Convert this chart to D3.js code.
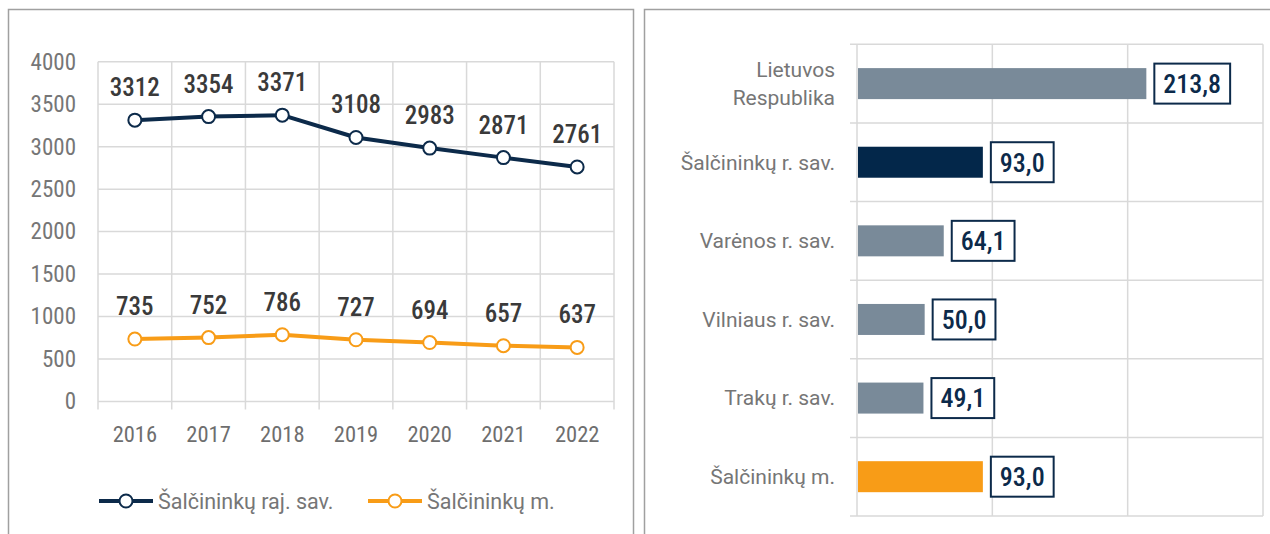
<!DOCTYPE html>
<html>
<head>
<meta charset="utf-8">
<script src="https://cdn.jsdelivr.net/npm/d3@7/dist/d3.min.js"></script>
<style>
  html, body { margin: 0; padding: 0; background: #fff; }
  svg { display: block; }
  text { font-family: Roboto, "Open Sans", sans-serif; }
  .num { font-stretch: 75%; }
  .lab { font-stretch: 100%; }
</style>
</head>
<body>
<svg id="chart" width="1270" height="534"></svg>
<script>
// ---- Data ----
const years = ["2016", "2017", "2018", "2019", "2020", "2021", "2022"];
const seriesNames = ["Šalčininkų raj. sav.", "Šalčininkų m."];
const districtValues = [3312, 3354, 3371, 3108, 2983, 2871, 2761];
const townValues = [735, 752, 786, 727, 694, 657, 637];
const yTicks = [0, 500, 1000, 1500, 2000, 2500, 3000, 3500, 4000];

const barCategories = ["Lietuvos\nRespublika", "Šalčininkų r. sav.", "Varėnos r. sav.", "Vilniaus r. sav.", "Trakų r. sav.", "Šalčininkų m."];
const barValues = [213.8, 93.0, 64.1, 50.0, 49.1, 93.0];
const xTicks = [0, 100, 200, 300];

// ---- Styles ----
const NAVY = "#0c2a4a";
const ORANGE = "#f89c17";
const GREY_BAR = "#798a99";
const GRID = "#d9d9d9";
const AXIS_TEXT = "#767676";
const FRAME = "#a0a0a0";
const barColors = [GREY_BAR, "#03274a", GREY_BAR, GREY_BAR, GREY_BAR, ORANGE];

const svg = d3.select("#chart");

// Frames
svg.append("rect").attr("x", 8.5).attr("y", 9.5).attr("width", 625).attr("height", 540)
  .attr("fill", "none").attr("stroke", FRAME).attr("stroke-width", 1.5);
svg.append("rect").attr("x", 644.5).attr("y", 9.5).attr("width", 640).attr("height", 540)
  .attr("fill", "none").attr("stroke", FRAME).attr("stroke-width", 1.5);

// ================= LINE CHART =================
const L = { left: 98, right: 614, top: 61.7, bottom: 401.5 };
const x = d3.scaleBand().domain(years).range([L.left, L.right]);
const y = d3.scaleLinear().domain([0, 4000]).range([L.bottom, L.top]);

const lg = svg.append("g");
lg.append("g").selectAll("line").data(yTicks).join("line")
  .attr("x1", L.left).attr("x2", L.right)
  .attr("y1", d => y(d)).attr("y2", d => y(d))
  .attr("stroke", GRID).attr("stroke-width", 1.5);
const bounds = years.map(d => x(d)).concat([x(years[years.length - 1]) + x.bandwidth()]);
lg.append("g").selectAll("line").data(bounds).join("line")
  .attr("x1", d => d).attr("x2", d => d)
  .attr("y1", L.top).attr("y2", L.bottom + 8)
  .attr("stroke", GRID).attr("stroke-width", 1.5);

const yAxis = d3.axisLeft(y).tickValues(yTicks).tickFormat(d3.format("d")).tickSize(0).tickPadding(22);
const yg = lg.append("g").attr("transform", `translate(${L.left},0)`).call(yAxis);
yg.select(".domain").remove();
yg.selectAll("text").attr("class", "num").attr("font-size", 23).attr("fill", AXIS_TEXT)
  .attr("font-family", null);

const xAxis = d3.axisBottom(x).tickSize(0).tickPadding(25);
const xg = lg.append("g").attr("transform", `translate(0,${L.bottom})`).call(xAxis);
xg.select(".domain").remove();
xg.selectAll("text").attr("class", "num").attr("font-size", 22.5).attr("font-weight", 400).attr("fill", "#6e6e6e")
  .attr("font-family", null);

const line = d3.line().x((d, i) => x(years[i]) + x.bandwidth() / 2).y(d => y(d));
const seriesList = [
  { values: districtValues, color: NAVY },
  { values: townValues, color: ORANGE }
];
seriesList.forEach(s => {
  lg.append("path").datum(s.values).attr("d", line)
    .attr("fill", "none").attr("stroke", s.color).attr("stroke-width", 4)
    .attr("stroke-linejoin", "round");
  lg.append("g").selectAll("circle").data(s.values).join("circle")
    .attr("cx", (d, i) => x(years[i]) + x.bandwidth() / 2)
    .attr("cy", d => y(d)).attr("r", 6.5)
    .attr("fill", "#fff").attr("stroke", s.color).attr("stroke-width", 2);
  lg.append("g").selectAll("text").data(s.values).join("text")
    .attr("class", "num")
    .attr("x", (d, i) => x(years[i]) + x.bandwidth() / 2)
    .attr("y", d => y(d) - 24)
    .attr("text-anchor", "middle").attr("font-size", 25).attr("font-weight", 500).attr("fill", "#3a3a3a")
    .text(d => d);
});

// legend
const legendItems = [
  { name: seriesNames[0], color: NAVY, x1: 99, x2: 153, tx: 158 },
  { name: seriesNames[1], color: ORANGE, x1: 368, x2: 422, tx: 427 }
];
const legY = 501;
legendItems.forEach(it => {
  lg.append("line").attr("x1", it.x1).attr("x2", it.x2).attr("y1", legY).attr("y2", legY)
    .attr("stroke", it.color).attr("stroke-width", 4);
  lg.append("circle").attr("cx", (it.x1 + it.x2) / 2).attr("cy", legY).attr("r", 6.5)
    .attr("fill", "#fff").attr("stroke", it.color).attr("stroke-width", 2);
  lg.append("text").attr("class", "lab").attr("x", it.tx).attr("y", legY).attr("dy", "0.35em")
    .attr("font-size", 21.5).attr("fill", AXIS_TEXT).text(it.name);
});

// ================= BAR CHART =================
const B = { left: 857, right: 1263, top: 44.3, bottom: 516 };
const bx = d3.scaleLinear().domain([0, 300]).range([B.left, B.right]);
const by = d3.scaleBand().domain(barCategories).range([B.top, B.bottom]);

const bg = svg.append("g");
const bBounds = barCategories.map(d => by(d)).concat([B.bottom]);
bg.append("g").selectAll("line").data(bBounds).join("line")
  .attr("x1", B.left - 7).attr("x2", B.right)
  .attr("y1", d => d).attr("y2", d => d)
  .attr("stroke", GRID).attr("stroke-width", 1.5);
bg.append("g").selectAll("line").data(xTicks).join("line")
  .attr("x1", d => bx(d)).attr("x2", d => bx(d))
  .attr("y1", B.top).attr("y2", B.bottom)
  .attr("stroke", GRID).attr("stroke-width", 1.5);

const barH = 31;
bg.append("g").selectAll("rect").data(barValues).join("rect")
  .attr("x", bx(0) + 1)
  .attr("y", (d, i) => by(barCategories[i]) + by.bandwidth() / 2 - barH / 2)
  .attr("width", d => bx(d) - bx(0) - 1)
  .attr("height", barH)
  .attr("fill", (d, i) => barColors[i]);

const catG = bg.append("g");
barCategories.forEach((c, i) => {
  const lines = c.split("\n");
  const cy = by(c) + by.bandwidth() / 2;
  const lh = 28.5;
  const t = catG.append("text").attr("class", "lab").attr("text-anchor", "end").attr("font-size", 21).attr("fill", AXIS_TEXT);
  lines.forEach((ln, k) => {
    t.append("tspan").attr("x", 835)
      .attr("y", cy + (k - (lines.length - 1) / 2) * lh)
      .attr("dy", "0.35em").text(ln);
  });
});

const fmt = v => d3.format(".1f")(v).replace(".", ",");
barValues.forEach((v, i) => {
  const cy = by(barCategories[i]) + by.bandwidth() / 2;
  const g = bg.append("g");
  const t = g.append("text").attr("class", "num").attr("x", bx(v) + 8 + 9).attr("y", cy).attr("dy", "0.36em")
    .attr("font-size", 26).attr("fill", NAVY).attr("font-weight", 500).text(fmt(v));
  const w = t.node().getComputedTextLength();
  g.insert("rect", "text")
    .attr("x", bx(v) + 8).attr("y", cy - 20)
    .attr("width", w + 18).attr("height", 40)
    .attr("fill", "#fff").attr("stroke", NAVY).attr("stroke-width", 2);
});
</script>
</body>
</html>
